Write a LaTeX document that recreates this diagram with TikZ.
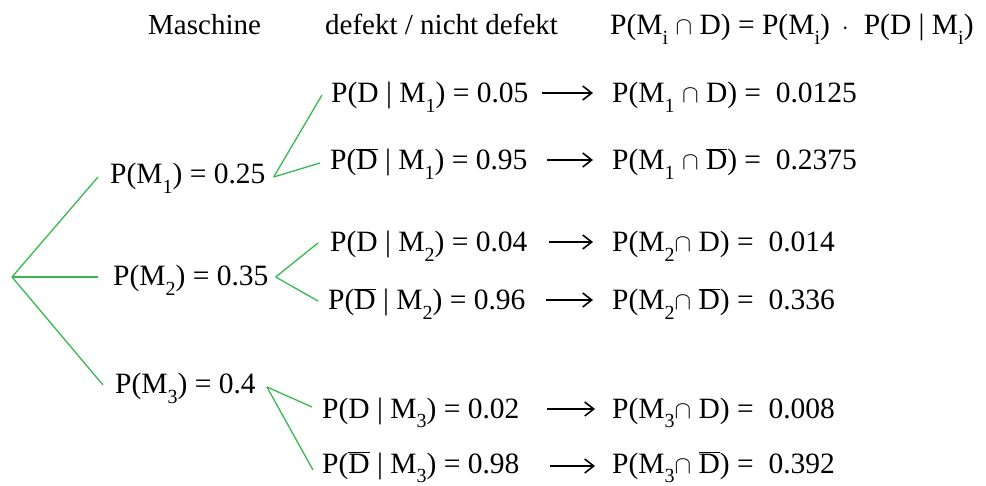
\documentclass[tikz,border=0pt]{standalone}
\usepackage{fontspec}
\setmainfont{Liberation Serif}
\usetikzlibrary{arrows.meta}
\newcommand\sbs[1]{\raisebox{-0.33em}{\fontsize{20}{20}\selectfont #1}}
\newcommand\Db{$\overline{\mbox{D}}$}
\definecolor{brgreen}{RGB}{55,185,80}
\begin{document}
\begin{tikzpicture}[x=1pt,y=-1pt,
  txt/.style={anchor=base west,inner sep=0pt,font=\fontsize{29.5}{32}\selectfont},
  headtxt/.style={anchor=base west,inner sep=0pt,font=\fontsize{29}{31}\selectfont},
  branch/.style={draw=brgreen,line width=1.3pt},
  arrowline/.style={draw=black,line width=1.8pt,-{Straight Barb[length=9pt,width=14pt,line width=1.6pt]}}]
\useasboundingbox (0,0) rectangle (986,486);
% headers
\node[headtxt] (h1) at (148,35) {Maschine};
\node[headtxt] (h2) at (325,35) {defekt / nicht defekt};
\node[txt] (h3) at (610,35) {P(M\sbs{i} $\cap$ D) = P(M\sbs{i})\hspace{12pt}$\cdot$\hspace{15pt}P(D | M\sbs{i})};
% root
\coordinate (root) at (12,277);
% level 1
\node[txt] (m1) at (110,184) {P(M\sbs{1}) = 0.25};
\node[txt] (m2) at (113,286) {P(M\sbs{2}) = 0.35};
\node[txt] (m3) at (115,394) {P(M\sbs{3}) = 0.4};
% level 2
\node[txt] (r1) at (331,103) {P(D | M\sbs{1}) = 0.05};
\node[txt] (r2) at (330,170) {P(\Db{} | M\sbs{1}) = 0.95};
\node[txt] (r3) at (330,252) {P(D | M\sbs{2}) = 0.04};
\node[txt] (r4) at (328,310) {P(\Db{} | M\sbs{2}) = 0.96};
\node[txt] (r5) at (322,418) {P(D | M\sbs{3}) = 0.02};
\node[txt] (r6) at (322,473) {P(\Db{} | M\sbs{3}) = 0.98};
% results
\node[txt] (p1) at (612,103) {P(M\sbs{1} $\cap$ D) =\ \ 0.0125};
\node[txt] (p2) at (612,170) {P(M\sbs{1} $\cap$ \Db) =\ \ 0.2375};
\node[txt] (p3) at (612,252) {P(M\sbs{2}$\cap$ D) =\ \ 0.014};
\node[txt] (p4) at (612,310) {P(M\sbs{2}$\cap$ \Db) =\ \ 0.336};
\node[txt] (p5) at (612,418) {P(M\sbs{3}$\cap$ D) =\ \ 0.008};
\node[txt] (p6) at (612,473) {P(M\sbs{3}$\cap$ \Db) =\ \ 0.392};
% arrows
\coordinate (a1s) at (542,93); \coordinate (a1e) at (593,93);
\coordinate (a2s) at (547,160); \coordinate (a2e) at (593,160);
\coordinate (a3s) at (549,242); \coordinate (a3e) at (593,242);
\coordinate (a4s) at (546,300); \coordinate (a4e) at (593,300);
\coordinate (a5s) at (547,409); \coordinate (a5e) at (595,409);
\coordinate (a6s) at (550,466); \coordinate (a6e) at (595,466);
\foreach \i in {1,...,6} {\draw[arrowline] (a\i s) -- (a\i e);}
% branches
\draw[branch] (root) -- ([shift={(-12,-7)}]m1.base west);
\draw[branch] (root) -- ([shift={(-15,-9)}]m2.base west);
\draw[branch] (root) -- ([shift={(-12,-9)}]m3.base west);
\draw[branch] ([shift={(8,-7)}]m1.base east) -- ([shift={(-9,-8)}]r1.base west);
\draw[branch] ([shift={(8,-7)}]m1.base east) -- ([shift={(-10,-7)}]r2.base west);
\draw[branch] ([shift={(7,-9)}]m2.base east) -- ([shift={(-12,-9)}]r3.base west);
\draw[branch] ([shift={(7,-9)}]m2.base east) -- ([shift={(-10,-9)}]r4.base west);
\draw[branch] ([shift={(11,-7)}]m3.base east) -- ([shift={(-10,-11)}]r5.base west);
\draw[branch] ([shift={(11,-7)}]m3.base east) -- ([shift={(-9,-3)}]r6.base west);
\end{tikzpicture}
\end{document}
